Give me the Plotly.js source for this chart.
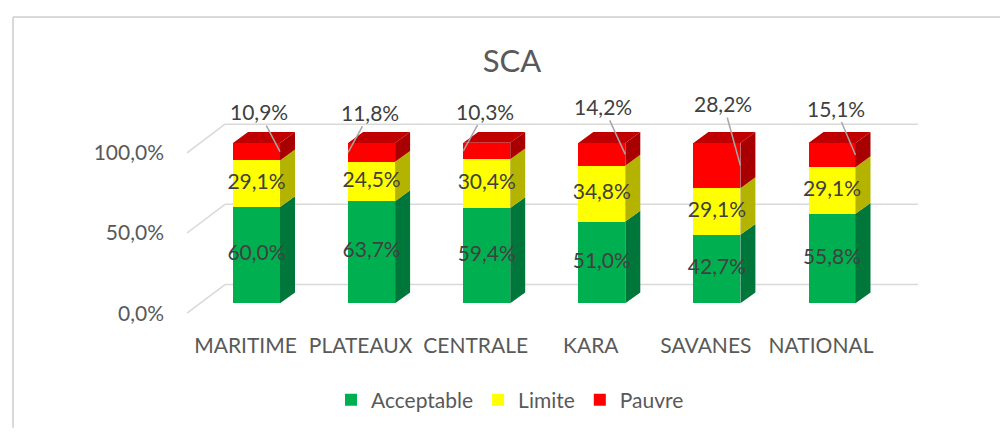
<!DOCTYPE html>
<html>
<head>
<meta charset="utf-8">
<script src="https://cdn.plot.ly/plotly-3.0.1.min.js"></script>
<style>html,body{margin:0;padding:0;background:#fff;}#chart{width:1000px;height:432px;}</style>
</head>
<body>
<div id="chart"></div>
<script>
// ---- data ----
const categories = ['MARITIME', 'PLATEAUX', 'CENTRALE', 'KARA', 'SAVANES', 'NATIONAL'];
const acceptable = [60.0, 63.7, 59.4, 51.0, 42.7, 55.8];
const limite     = [29.1, 24.5, 30.4, 34.8, 29.1, 29.1];
const pauvre     = [10.9, 11.8, 10.3, 14.2, 28.2, 15.1];
const seriesNames = ['Acceptable', 'Limite', 'Pauvre'];
const yTickVals = [0, 50, 100];
const yTickText = ['0,0%', '50,0%', '100,0%'];
const chartTitle = 'SCA';

// ---- layout / style constants ----
const FONT = 'Lato, "Open Sans", sans-serif';
const plotL = 170, plotR = 930, plotT = 100, plotB = 330;
const cat0Px = 256.5, catStepPx = 115.1, zeroPx = 306, pxPerUnit = 1.625;
const xRange = [(plotL - cat0Px) / catStepPx, (plotR - cat0Px) / catStepPx];
const yRange = [-(plotB - zeroPx) / pxPerUnit, (zeroPx - plotT) / pxPerUnit];
const barW = 47 / catStepPx;          // front face width (axis units)
const dx = 15 / catStepPx;            // 3D depth, horizontal
const dy = 11 / pxPerUnit;            // 3D depth, vertical
const gridOffset = 19 / pxPerUnit;    // back wall shift
const labelOffset = 10 / pxPerUnit;   // y tick label shift
const catLabelShift = 11 / catStepPx; // x tick label shift
const wallX0 = (225 - cat0Px) / catStepPx, wallX1 = (918 - cat0Px) / catStepPx;
const sideX0 = (187 - cat0Px) / catStepPx;

const frontColors = ['#00B050', '#FFFF00', '#FF0000'];
const sideColors  = ['#00773A', '#B3B300', '#A80000'];
const topColor = '#C00000';
// pauvre label placement: which front edge the leader line hits, and label offset (px)
const pauvreEdge = [1, -1, -1, 1, 1, 1];
const pauvreAx = [-21, 22, 22, -22, -17, -20];
const pauvreAy = [-40, -40, -40, -48, -62, -47];

const fmt = v => v.toFixed(1).replace('.', ',') + '%';
const idx = categories.map((c, i) => i);
const values = [acceptable, limite, pauvre];

// stacking
const bases = [], tops = [];
let run = categories.map(() => 0);
values.forEach(arr => {
  bases.push(run.slice());
  run = run.map((r, i) => r + arr[i]);
  tops.push(run.slice());
});

const traces = [];
// side faces
values.forEach((arr, s) => {
  const xs = [], ys = [];
  idx.forEach(i => {
    const xr = i + barW / 2, b = bases[s][i], t = tops[s][i];
    xs.push(xr, xr + dx, xr + dx, xr, xr, null);
    ys.push(b, b + dy, t + dy, t, b, null);
  });
  traces.push({type: 'scatter', x: xs, y: ys, mode: 'lines', fill: 'toself',
    fillcolor: sideColors[s], line: {width: 0, color: sideColors[s]},
    showlegend: false, hoverinfo: 'skip'});
});
// top face
(function () {
  const xs = [], ys = [], s = values.length - 1;
  idx.forEach(i => {
    const xl = i - barW / 2, xr = i + barW / 2, t = tops[s][i];
    xs.push(xl, xl + dx, xr + dx, xr, xl, null);
    ys.push(t, t + dy, t + dy, t, t, null);
  });
  traces.push({type: 'scatter', x: xs, y: ys, mode: 'lines', fill: 'toself',
    fillcolor: topColor, line: {width: 0, color: topColor},
    showlegend: false, hoverinfo: 'skip'});
})();
// front faces
values.forEach((arr, s) => {
  traces.push({type: 'bar', name: seriesNames[s], x: idx, y: arr, width: barW,
    marker: {color: frontColors[s], line: {width: 0}}, hoverinfo: 'skip'});
});
// inside labels (Acceptable, Limite)
[0, 1].forEach(s => {
  traces.push({type: 'scatter', mode: 'text', x: idx,
    y: idx.map(i => (bases[s][i] + tops[s][i]) / 2),
    text: values[s].map(fmt), textposition: 'middle center',
    textfont: {family: FONT, size: 21, color: '#404040'},
    cliponaxis: false, showlegend: false, hoverinfo: 'skip'});
});

// pauvre labels with leader lines
const annotations = idx.map(i => ({
  x: i + pauvreEdge[i] * barW / 2,
  y: (bases[2][i] + tops[2][i]) / 2,
  xref: 'x', yref: 'y',
  text: fmt(pauvre[i]),
  showarrow: true, arrowhead: 0, arrowwidth: 1.5, arrowcolor: '#A6A6A6',
  ax: pauvreAx[i], ay: pauvreAy[i], standoff: 0,
  font: {family: FONT, size: 21, color: '#404040'}
}));

// back-wall gridlines & side-wall lines
const shapes = [];
yTickVals.forEach(g => {
  shapes.push({type: 'line', xref: 'x', yref: 'y', layer: 'below',
    x0: wallX0, x1: wallX1, y0: g + gridOffset, y1: g + gridOffset,
    line: {color: '#D9D9D9', width: 1.5}});
  shapes.push({type: 'line', xref: 'x', yref: 'y', layer: 'below',
    x0: sideX0, x1: wallX0, y0: g - labelOffset, y1: g + gridOffset,
    line: {color: '#D9D9D9', width: 1.5}});
});
// chart-area border (top & left)
const pw = plotR - plotL, ph = plotB - plotT;
const px2paperX = p => (p - plotL) / pw;
const px2paperY = p => (plotB - p) / ph;
shapes.push({type: 'line', xref: 'paper', yref: 'paper',
  x0: px2paperX(13), x1: px2paperX(1000), y0: px2paperY(16), y1: px2paperY(16),
  line: {color: '#D9D9D9', width: 2}});
shapes.push({type: 'line', xref: 'paper', yref: 'paper',
  x0: px2paperX(13), x1: px2paperX(13), y0: px2paperY(16), y1: px2paperY(432),
  line: {color: '#D9D9D9', width: 2}});

const layout = {
  width: 1000, height: 432,
  margin: {l: plotL, r: 1000 - plotR, t: plotT, b: 432 - plotB, pad: 0},
  paper_bgcolor: '#FFFFFF', plot_bgcolor: 'rgba(0,0,0,0)',
  barmode: 'stack',
  title: {text: chartTitle, font: {family: FONT, size: 31, color: '#595959'},
    xref: 'paper', x: px2paperX(512), xanchor: 'center',
    yref: 'container', y: 1 - 61 / 432, yanchor: 'middle'},
  xaxis: {range: xRange, tickvals: idx.map(i => i - catLabelShift), ticktext: categories,
    showgrid: false, zeroline: false, showline: false, ticks: '',
    ticklabelstandoff: 4,
    tickfont: {family: FONT, size: 21, color: '#595959'}, fixedrange: true},
  yaxis: {range: yRange, tickvals: yTickVals.map(v => v - labelOffset), ticktext: yTickText,
    showgrid: false, zeroline: false, showline: false, ticks: '',
    ticklabelstandoff: 5,
    tickfont: {family: FONT, size: 21, color: '#595959'}, fixedrange: true},
  showlegend: true,
  legend: {orientation: 'h', x: px2paperX(510), xanchor: 'center',
    y: px2paperY(404), yanchor: 'middle', traceorder: 'normal',
    font: {family: FONT, size: 21, color: '#595959'}},
  shapes: shapes,
  annotations: annotations
};

Plotly.newPlot('chart', traces, layout, {staticPlot: true, displayModeBar: false});
</script>
</body>
</html>
